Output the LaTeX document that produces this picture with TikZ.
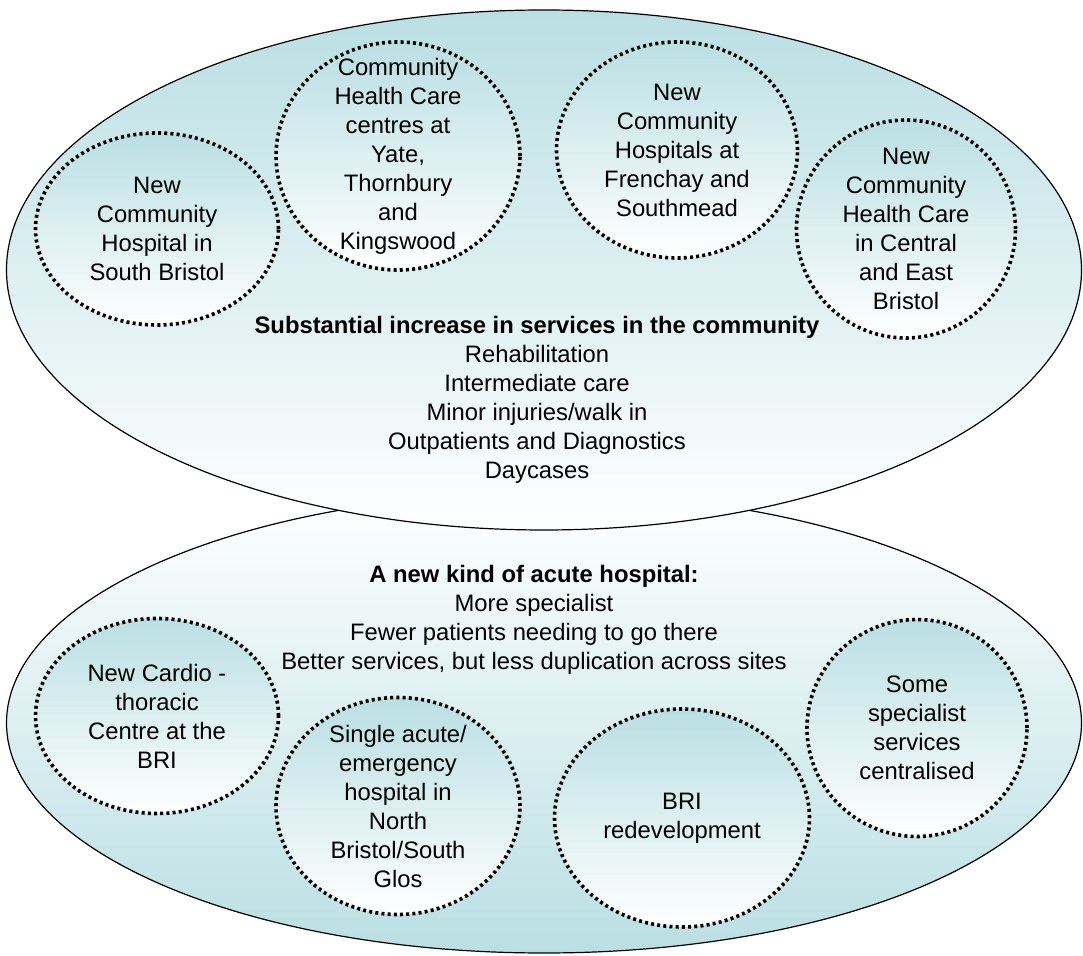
\documentclass[tikz,border=0pt]{standalone}
\usepackage{fontspec}
\setmainfont{Liberation Sans}
\usepackage{tikz}
\usetikzlibrary{positioning, shapes.geometric}
\definecolor{paleteal}{RGB}{186,223,227}

\begin{document}
\begin{tikzpicture}[x = 0.5pt, y = -0.5pt,
    oval/.style = { draw, shape = ellipse, line width = 0.6pt, inner sep = 0pt },
    site/.style = { draw, shape = ellipse, line width = 1.8pt, dash pattern = on 1.5pt off 1.6pt,
                    top color = paleteal, bottom color = white, inner sep = 0pt },
    caption/.style = { align = center, inner sep = 0pt, font = \fontsize{11.9}{14.5}\selectfont }]
      \useasboundingbox (0,0) rectangle (1083,956);

      % the two big ovals
      \node [oval, top color = white, bottom color = paleteal,
             minimum width = 537.5pt, minimum height = 230pt] (acute) at (544,723) {};
      \node [oval, top color = paleteal, bottom color = white,
             minimum width = 537.5pt, minimum height = 260pt] (community) at (544,270) {};

      % community sites
      \node [site, minimum width = 121.5pt, minimum height = 96pt] (southbristol) at (157,229) {};
      \node [site, minimum width = 122pt, minimum height = 114pt] (yate) at (398,156) {};
      \node [site, minimum width = 120.5pt, minimum height = 108pt] (frenchay) at (677,150) {};
      \node [site, minimum width = 109.5pt, minimum height = 109pt] (central) at (906,229) {};

      \node [caption] (southbristoltext) at (southbristol) { New \\ Community \\ Hospital in \\ South Bristol };
      \node [caption] (yatetext) at (yate) { Community \\ Health Care \\ centres at \\ Yate, \\ Thornbury \\ and \\ Kingswood };
      \node [caption] (frenchaytext) at (frenchay) { New \\ Community \\ Hospitals at \\ Frenchay and \\ Southmead };
      \node [caption] (centraltext) at (central) { New \\ Community \\ Health Care \\ in Central \\ and East \\ Bristol };

      \node [caption] (communitytext) at (537,400) { \textbf{Substantial increase in services in the community} \\
        Rehabilitation \\ Intermediate care \\ Minor injuries/walk in \\ Outpatients and Diagnostics \\ Daycases };

      % acute sites
      \node [site, minimum width = 121.5pt, minimum height = 97.5pt] (cardio) at (157,716) {};
      \node [site, minimum width = 122pt, minimum height = 108.5pt] (northbristol) at (398,806) {};
      \node [site, minimum width = 127.5pt, minimum height = 109pt] (bri) at (682,818) {};
      \node [site, minimum width = 110pt, minimum height = 108.5pt] (specialist) at (917,728) {};

      \node [caption] (cardiotext) at (cardio) { New Cardio - \\ thoracic \\ Centre at the \\ BRI };
      \node [caption] (northbristoltext) at (northbristol) { Single acute/ \\ emergency \\ hospital in \\ North \\ Bristol/South \\ Glos };
      \node [caption] (britext) at (bri) { BRI \\ redevelopment };
      \node [caption] (specialisttext) at (specialist) { Some \\ specialist \\ services \\ centralised };

      \node [caption] (acutetext) at (534,620) { \textbf{A new kind of acute hospital:} \\ More specialist \\
        Fewer patients needing to go there \\ Better services, but less duplication across sites };

    \end{tikzpicture}
\end{document}
